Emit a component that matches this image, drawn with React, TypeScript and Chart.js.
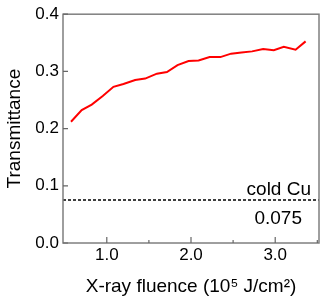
import React, { useEffect, useRef } from "react";
import { Chart, registerables } from "chart.js";

Chart.register(...registerables);

const FLUENCE = [0.575, 0.702, 0.821, 0.952, 1.079, 1.198, 1.337, 1.456, 1.595, 1.714, 1.84, 1.971, 2.09, 2.221, 2.349, 2.476, 2.599, 2.726, 2.857, 2.983, 3.102, 3.242, 3.361];
const TRANSMITTANCE = [0.212, 0.2325, 0.242, 0.257, 0.273, 0.278, 0.285, 0.2875, 0.296, 0.299, 0.311, 0.318, 0.319, 0.325, 0.325, 0.331, 0.333, 0.335, 0.339, 0.337, 0.343, 0.338, 0.3525];
const COLD_CU = 0.075;
const COLD_LABEL = "cold Cu";
const COLD_VALUE_LABEL = "0.075";
const X_MIN = 0.48;
const X_MAX = 3.52;
const X_MAJOR = [1, 2, 3];
const X_MINOR = [1.5, 2.5, 3.5];
const Y_MIN = 0;
const Y_MAX = 0.4;
const Y_MAJOR = [0, 0.1, 0.2, 0.3, 0.4];

const FONT = "'Liberation Sans', Arial, Helvetica, sans-serif";

const framePlugin = {
  id: "frame",
  afterDraw(chart: any) {
    const { ctx, chartArea: a, scales } = chart;
    const xs = scales.x;
    const ys = scales.y;
    ctx.save();
    // dashed label texts
    const yc = ys.getPixelForValue(COLD_CU);
    ctx.fillStyle = "#000";
    ctx.font = `19px ${FONT}`;
    ctx.textAlign = "right";
    ctx.textBaseline = "alphabetic";
    ctx.fillText(COLD_LABEL, a.right - 8, yc - 5);
    ctx.fillText(COLD_VALUE_LABEL, a.right - 17, yc + 23.5);
    // frame
    ctx.strokeStyle = "#7f7f7f";
    ctx.lineWidth = 1.5;
    ctx.strokeRect(a.left, a.top, a.right - a.left, a.bottom - a.top);
    // inward ticks
    ctx.strokeStyle = "#666";
    ctx.lineWidth = 1.2;
    ctx.beginPath();
    for (const v of Y_MAJOR) {
      const y = ys.getPixelForValue(v);
      ctx.moveTo(a.left, y);
      ctx.lineTo(a.left + 5, y);
    }
    for (const v of X_MAJOR) {
      const x = xs.getPixelForValue(v);
      ctx.moveTo(x, a.bottom);
      ctx.lineTo(x, a.bottom - 6);
    }
    for (const v of X_MINOR) {
      const x = xs.getPixelForValue(v);
      ctx.moveTo(x, a.bottom);
      ctx.lineTo(x, a.bottom - 3);
    }
    ctx.stroke();
    ctx.restore();
  },
};

export default function App() {
  const ref = useRef<HTMLCanvasElement | null>(null);
  useEffect(() => {
    if (!ref.current) return;
    const chart = new Chart(ref.current, {
      type: "line",
      data: {
        datasets: [
          {
            data: FLUENCE.map((x, i) => ({ x, y: TRANSMITTANCE[i] })),
            borderColor: "#ff0000",
            borderWidth: 2,
            pointRadius: 0,
            tension: 0,
            fill: false,
          },
          {
            data: [
              { x: X_MIN, y: COLD_CU },
              { x: X_MAX, y: COLD_CU },
            ],
            borderColor: "#000",
            borderWidth: 1.5,
            borderDash: [3, 2],
            pointRadius: 0,
            fill: false,
          },
        ],
      },
      options: {
        responsive: false,
        animation: false,
        layout: { padding: { left: 0, top: 13, right: 8, bottom: 0 } },
        plugins: { legend: { display: false }, tooltip: { enabled: false } },
        scales: {
          x: {
            type: "linear",
            min: X_MIN,
            max: X_MAX,
            afterBuildTicks: (s: any) => {
              s.ticks = X_MAJOR.map((v) => ({ value: v }));
            },
            afterFit: (s: any) => {
              s.height = 60;
            },
            grid: { display: false, drawTicks: false },
            border: { display: false },
            ticks: {
              color: "#000",
              font: { family: FONT, size: 17 },
              padding: 2,
              maxRotation: 0,
              callback: (v: any) => Number(v).toFixed(1),
            },
            title: {
              display: true,
              text: "X-ray fluence (10⁵ J/cm²)",
              color: "#000",
              font: { family: FONT, size: 19 },
              padding: { top: 0, bottom: 5 },
            },
          },
          y: {
            type: "linear",
            min: Y_MIN,
            max: Y_MAX,
            afterBuildTicks: (s: any) => {
              s.ticks = Y_MAJOR.map((v) => ({ value: v }));
            },
            afterFit: (s: any) => {
              s.width = 63;
            },
            grid: { display: false, drawTicks: false },
            border: { display: false },
            ticks: {
              color: "#000",
              font: { family: FONT, size: 17 },
              padding: 4,
              callback: (v: any) => Number(v).toFixed(1),
            },
            title: {
              display: true,
              text: "Transmittance",
              color: "#000",
              font: { family: FONT, size: 19 },
              padding: { top: 3, bottom: 0 },
            },
          },
        },
      },
      plugins: [framePlugin],
    });
    return () => chart.destroy();
  }, []);
  return (
    <div style={{ position: "absolute", left: 0, top: 0, width: 327, height: 303, background: "#fff" }}>
      <canvas ref={ref} width={327} height={303} />
    </div>
  );
}
